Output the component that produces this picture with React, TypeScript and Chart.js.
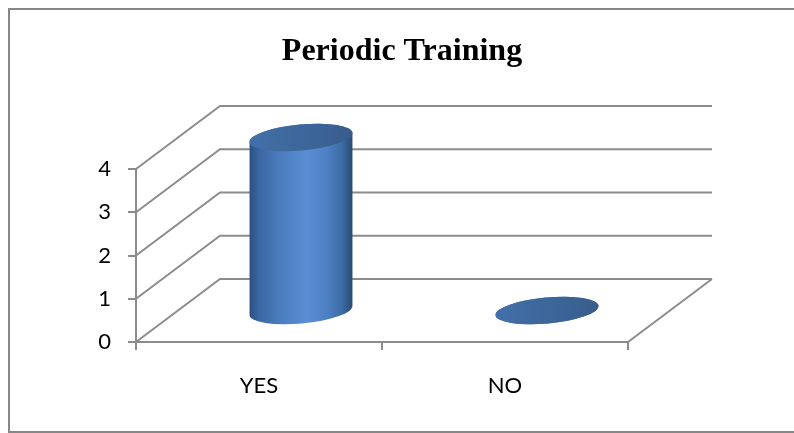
import { useEffect, useRef } from "react";
import { Chart, registerables } from "chart.js";

Chart.register(...registerables);

// Survey answers
const categories = ["YES", "NO"];
const responses = [4, 0];
const yTicks = [0, 1, 2, 3, 4];
const chartTitle = "Periodic Training";

// 3D look: back wall offset and cylinder shape
const GRID_COLOR = "#8c8c8c";
const DEPTH_X = 84;
const DEPTH_Y = -63;
const BAR_RATIO = 0.42;
const CAP_RY = 13;
const CAP_TILT = -0.09;

const walls3d = {
  id: "walls3d",
  afterDatasetsDraw(chart: any) {
    const { ctx, chartArea, scales } = chart;
    const xs = scales.x;
    const ys = scales.y;
    const left = chartArea.left;
    const right = chartArea.right;
    const base = ys.getPixelForValue(0);

    ctx.save();
    // side wall diagonals, back wall grid lines and floor edge
    ctx.strokeStyle = GRID_COLOR;
    ctx.lineWidth = 2;
    ctx.beginPath();
    for (const v of yTicks) {
      const py = ys.getPixelForValue(v);
      ctx.moveTo(left, py);
      ctx.lineTo(left + DEPTH_X, py + DEPTH_Y);
      ctx.lineTo(right + DEPTH_X, py + DEPTH_Y);
    }
    ctx.moveTo(right, base);
    ctx.lineTo(right + DEPTH_X, base + DEPTH_Y);
    ctx.stroke();

    // cylinders at mid depth
    const catW = (right - left) / categories.length;
    const rx = (catW * BAR_RATIO) / 2;
    const c = Math.cos(CAP_TILT);
    const s = Math.sin(CAP_TILT);
    responses.forEach((val, i) => {
      const cx = xs.getPixelForValue(i) + DEPTH_X / 2;
      const yTop = ys.getPixelForValue(val) + DEPTH_Y / 2;
      const yBot = base + DEPTH_Y / 2;

      const body = ctx.createLinearGradient(cx - rx, 0, cx + rx, 0);
      body.addColorStop(0, "#2b4f84");
      body.addColorStop(0.1, "#3b68a3");
      body.addColorStop(0.3, "#4a7cbf");
      body.addColorStop(0.55, "#5a8ed4");
      body.addColorStop(0.75, "#4e80c3");
      body.addColorStop(0.9, "#3c6aa2");
      body.addColorStop(1, "#2a4a74");

      ctx.beginPath();
      ctx.ellipse(cx, yBot, rx, CAP_RY, CAP_TILT, 0, Math.PI, false);
      ctx.lineTo(cx - rx * c, yTop - rx * s);
      ctx.ellipse(cx, yTop, rx, CAP_RY, CAP_TILT, Math.PI, 2 * Math.PI, false);
      ctx.closePath();
      ctx.fillStyle = body;
      ctx.fill();

      const top = ctx.createLinearGradient(cx - rx, 0, cx + rx, 0);
      top.addColorStop(0, "#4270a8");
      top.addColorStop(1, "#385d8c");
      ctx.beginPath();
      ctx.ellipse(cx, yTop, rx, CAP_RY, CAP_TILT, 0, 2 * Math.PI);
      ctx.fillStyle = top;
      ctx.fill();
    });
    ctx.restore();
  },
  afterDraw(chart: any) {
    // chart heading, centred over the whole frame
    const { ctx } = chart;
    ctx.save();
    ctx.fillStyle = "#000";
    ctx.font = "bold 32px 'Liberation Serif'";
    ctx.textAlign = "center";
    ctx.textBaseline = "alphabetic";
    ctx.fillText(chartTitle, 402, 60);
    ctx.restore();
  },
};

export default function App() {
  const canvasRef = useRef<HTMLCanvasElement | null>(null);

  useEffect(() => {
    const canvas = canvasRef.current;
    if (!canvas) return;
    const tickFont = { family: "Lato", size: 22 };
    const chart = new Chart(canvas, {
      type: "bar",
      data: {
        labels: categories,
        datasets: [
          {
            label: chartTitle,
            data: responses,
            backgroundColor: "rgba(0,0,0,0)",
            borderWidth: 0,
          },
        ],
      },
      options: {
        responsive: false,
        animation: false,
        devicePixelRatio: 1,
        layout: { padding: { left: 0, right: 166, top: 169, bottom: 0 } },
        plugins: {
          legend: { display: false },
          tooltip: { enabled: false },
          title: { display: false },
        },
        scales: {
          x: {
            offset: true,
            grid: {
              offset: true,
              drawOnChartArea: false,
              drawTicks: true,
              tickLength: 8,
              color: GRID_COLOR,
              lineWidth: 2,
            },
            border: { display: true, color: GRID_COLOR, width: 2 },
            ticks: { color: "#000", font: tickFont, padding: 23, maxRotation: 0 },
            afterFit: (scale: any) => {
              scale.height = 91;
            },
          },
          y: {
            min: 0,
            max: 4,
            grid: {
              drawOnChartArea: false,
              drawTicks: true,
              tickLength: 8,
              color: GRID_COLOR,
              lineWidth: 2,
            },
            border: { display: true, color: GRID_COLOR, width: 2 },
            ticks: { color: "#000", font: tickFont, padding: 17, stepSize: 1 },
            afterFit: (scale: any) => {
              scale.width = 136;
            },
          },
        },
      },
      plugins: [walls3d],
    });
    return () => chart.destroy();
  }, []);

  return (
    <div
      style={{
        position: "fixed",
        left: 0,
        top: 0,
        width: 794,
        height: 433,
        background: "#fff",
        overflow: "hidden",
      }}
    >
      <div
        style={{
          position: "absolute",
          left: 8,
          top: 8,
          width: 800,
          height: 421,
          border: "2px solid #878787",
        }}
      />
      <canvas
        ref={canvasRef}
        width={794}
        height={433}
        style={{ position: "absolute", left: 0, top: 0 }}
      />
    </div>
  );
}
